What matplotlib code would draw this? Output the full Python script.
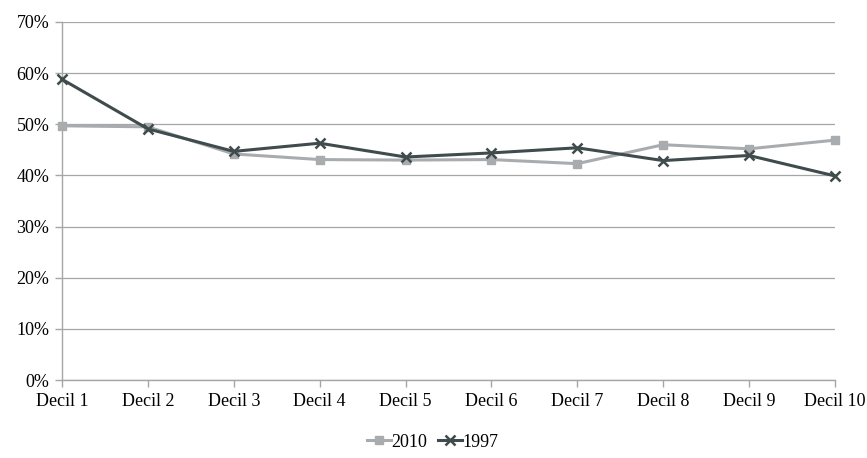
import matplotlib as mpl
from matplotlib import pyplot as plt
import numpy as np

mpl.rcParams.update({'font.size': 13, 'font.family': 'Liberation Serif'})

CATEGORIES = ['Decil 1', 'Decil 2', 'Decil 3', 'Decil 4', 'Decil 5',
              'Decil 6', 'Decil 7', 'Decil 8', 'Decil 9', 'Decil 10']
SHARE_2010 = [49.7, 49.5, 44.2, 43.1, 43.0, 43.1, 42.3, 46.0, 45.2, 46.9]
SHARE_1997 = [58.8, 49.1, 44.7, 46.3, 43.6, 44.4, 45.4, 42.9, 43.9, 39.9]
Y_TICKS = [0, 10, 20, 30, 40, 50, 60, 70]

GRID_COLOR = '#a6a6a6'


def plot_deciles(ax):
    x = np.arange(len(CATEGORIES))
    ax.plot(x, SHARE_2010, color='#a9acae', lw=2.2, marker='s', ms=6,
            label='2010', zorder=3, clip_on=False)
    ax.plot(x, SHARE_1997, color='#3f4b4c', lw=2.2, marker='x', ms=7,
            mew=1.8, label='1997', zorder=4, clip_on=False)

    ax.set_xlim(0, len(CATEGORIES) - 1)
    ax.set_ylim(0, 70)
    ax.set_xticks(x)
    ax.set_xticklabels(CATEGORIES)
    ax.set_yticks(Y_TICKS)
    ax.set_yticklabels(['{}%'.format(t) for t in Y_TICKS])

    ax.grid(axis='y', color=GRID_COLOR, lw=0.9)
    ax.set_axisbelow(True)
    for side in ['top', 'right']:
        ax.spines[side].set_visible(False)
    for side in ['left', 'bottom']:
        ax.spines[side].set_color(GRID_COLOR)
        ax.spines[side].set_linewidth(1.0)
    ax.tick_params(axis='both', color=GRID_COLOR, length=5, width=1.0,
                   labelsize=13, labelcolor='black')
    ax.tick_params(axis='x', pad=4)
    ax.tick_params(axis='y', pad=4)

    ax.legend(loc='upper center', bbox_to_anchor=(0.48, -0.115), ncol=2,
              frameon=False, handlelength=1.3, handletextpad=0.05,
              columnspacing=0.6, fontsize=13, borderpad=0.2)


if __name__ == '__main__':
    fig = plt.figure(figsize=(8.67, 4.58), dpi=100)
    ax = fig.add_axes([0.0715, 0.1703, 0.8915, 0.7817])
    plot_deciles(ax)
    fig.savefig('out.png', dpi=100)
